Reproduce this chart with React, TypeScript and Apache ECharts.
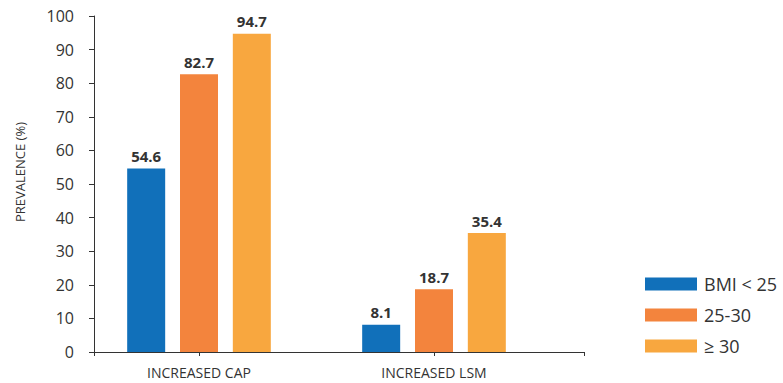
import React, { useEffect, useRef } from "react";
import * as echarts from "echarts";

const categories = ["INCREASED CAP", "INCREASED LSM"];
const seriesNames = ["BMI < 25", "25-30", "≥ 30"];
const bmiUnder25 = [54.6, 8.1];
const bmi25to30 = [82.7, 18.7];
const bmiOver30 = [94.7, 35.4];
const colors = ["#1170BA", "#F3843D", "#F8A73F"];
const yAxisTitle = "PREVALENCE (%)";

const FONT = "'Open Sans', 'Noto Sans', sans-serif";
const TXT = "#333333";

export default function App() {
  const ref = useRef<HTMLDivElement>(null);
  useEffect(() => {
    if (!ref.current) return;
    const chart = echarts.init(ref.current, undefined, { renderer: "svg" });
    const values = [bmiUnder25, bmi25to30, bmiOver30];
    chart.setOption({
      animation: false,
      textStyle: { fontFamily: FONT },
      legend: {
        orient: "vertical",
        left: 640,
        top: 270,
        itemWidth: 52,
        itemHeight: 13,
        itemGap: 13,
        icon: "rect",
        textStyle: { fontSize: 18, color: TXT, fontFamily: FONT, padding: [0, 0, 0, 2] },
        data: seriesNames,
      },
      graphic: [
        {
          type: "text",
          x: 20,
          y: 172,
          rotation: Math.PI / 2,
          style: {
            text: yAxisTitle,
            fontSize: 13,
            fontFamily: FONT,
            fill: TXT,
            align: "center",
            verticalAlign: "middle",
          },
        },
      ],
      grid: [
        { left: 94, top: 16, width: 490, bottom: 31 },
        { left: 81.5, top: 16, width: 470, bottom: 31 },
      ],
      xAxis: [
        {
          gridIndex: 0,
          type: "category",
          data: ["", ""],
          boundaryGap: false,
          axisLine: { show: true, lineStyle: { color: TXT, width: 1 } },
          axisTick: { show: true, length: 4, lineStyle: { color: TXT } },
          axisLabel: { show: false },
        },
        {
          gridIndex: 1,
          type: "category",
          data: categories,
          axisLine: { show: false },
          axisTick: { show: true, alignWithLabel: true, length: 4, lineStyle: { color: TXT } },
          axisLabel: { show: true, fontSize: 14, color: TXT, margin: 13, fontFamily: FONT },
        },
      ],
      yAxis: [
        {
          gridIndex: 0,
          type: "value",
          min: 0,
          max: 100,
          interval: 10,
          axisLine: { show: true, lineStyle: { color: TXT, width: 1 } },
          axisTick: { show: true, length: 5, lineStyle: { color: TXT } },
          axisLabel: { fontSize: 16, color: TXT, margin: 20, fontFamily: FONT },
          splitLine: { show: false },
        },
        {
          gridIndex: 1,
          type: "value",
          min: 0,
          max: 100,
          show: false,
          splitLine: { show: false },
        },
      ],
      series: seriesNames.map((name, i) => ({
        name,
        type: "bar",
        xAxisIndex: 1,
        yAxisIndex: 1,
        data: values[i],
        barWidth: 38,
        barGap: "39%",
        itemStyle: { color: colors[i] },
        label: {
          show: true,
          position: "top",
          distance: 5,
          fontSize: 15,
          fontWeight: "bold",
          color: TXT,
          fontFamily: FONT,
        },
      })),
    });
    return () => chart.dispose();
  }, []);
  return (
    <div
      ref={ref}
      style={{ position: "fixed", left: 0, top: 0, width: 783, height: 383, background: "#fff" }}
    />
  );
}
